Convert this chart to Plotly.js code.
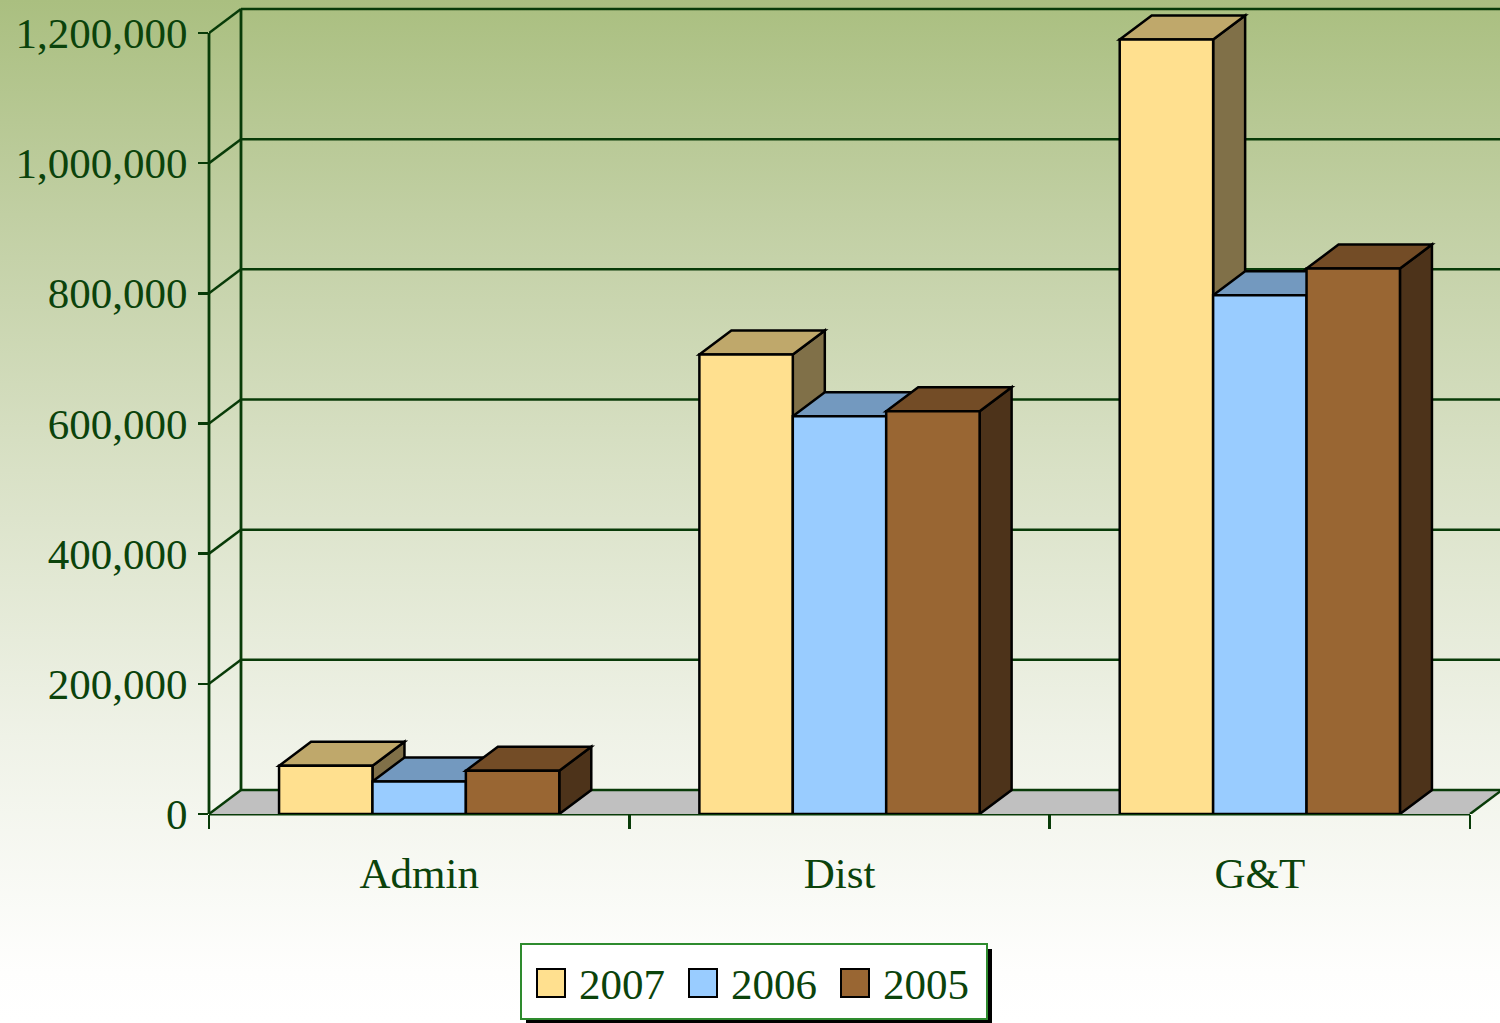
<!DOCTYPE html>
<html><head><meta charset="utf-8">
<script src="https://cdn.plot.ly/plotly-3.0.1.min.js"></script>
<style>
html,body{margin:0;padding:0;}
#chart{width:1500px;height:1023px;background:linear-gradient(to bottom,#AABF80 0%,#C1CFA3 21%,#D9E1C6 46%,#EFF2E7 72%,#FEFEFD 95%,#FFFFFF 100%);}
</style></head><body><div id="chart"></div>
<script>
// ---- data ----
const categories = ['Admin', 'Dist', 'G&T'];
const seriesNames = ['2007', '2006', '2005'];
const values2007 = [74000, 706000, 1190000];
const values2006 = [50000, 611000, 797000];
const values2005 = [66500, 619000, 838000];
const yTickValues = [0, 200000, 400000, 600000, 800000, 1000000, 1200000];

// ---- styles ----
const frontColors = ['#FFE08F', '#99CCFF', '#996633'];
const topColors = ['#BFA86B', '#7399BF', '#734C26'];
const sideColors = ['#807048', '#4D6680', '#4D331A'];
const lineGreen = '#083B08';
const textGreen = '#0B430B';
const fontFam = '"Liberation Serif", "Times New Roman", serif';

const seriesValues = [values2007, values2006, values2005];

// ---- geometry ----
const W = 1500, H = 1023;
const M = {l: 209, r: 0, t: 4, b: 209};
const plotW = W - M.l - M.r, plotH = H - M.t - M.b;
const frontAxisPx = 1261;              // px covered by the categories on the front plane
const pxPerCat = frontAxisPx / categories.length;
const yTop = yTickValues[yTickValues.length - 1];
const pxPerVal = 781 / yTop;
const xMin = -0.5, xMax = -0.5 + plotW / pxPerCat;
const yMax = plotH / pxPerVal;
const dx = 32 / pxPerCat, dy = 24 / pxPerVal;   // depth offsets in data units
const bargap = 1 / 3;
const groupW = 1 - bargap, barW = groupW / seriesNames.length;
const xFrontEnd = xMin + categories.length;

function px2paperX(px) { return (px - M.l) / plotW; }
function py2paperY(py) { return (H - M.b - py) / plotH; }

const shapes = [];
// floor
shapes.push({type: 'path', xref: 'x', yref: 'y', layer: 'below',
  path: `M${xMin},0 L${xFrontEnd},0 L${xFrontEnd + dx},${dy} L${xMin + dx},${dy} Z`,
  fillcolor: '#C0C0C0', line: {width: 0}});
// back wall left edge
shapes.push({type: 'line', xref: 'x', yref: 'y', layer: 'below',
  x0: xMin + dx, x1: xMin + dx, y0: dy, y1: yTop + dy, line: {color: lineGreen, width: 2.8}});
// back wall gridlines and diagonals
yTickValues.forEach(t => {
  shapes.push({type: 'line', xref: 'x', yref: 'y', layer: 'below',
    x0: xMin + dx, x1: xMax, y0: t + dy, y1: t + dy, line: {color: lineGreen, width: 2.5}});
  shapes.push({type: 'line', xref: 'x', yref: 'y', layer: 'below',
    x0: xMin, x1: xMin + dx, y0: t, y1: t + dy, line: {color: lineGreen, width: 2.5}});
});
// floor right diagonal
shapes.push({type: 'line', xref: 'x', yref: 'y', layer: 'below',
  x0: xFrontEnd, x1: xFrontEnd + dx, y0: 0, y1: dy, line: {color: lineGreen, width: 2.5}});
// front value axis
shapes.push({type: 'line', xref: 'paper', yref: 'y', layer: 'below',
  x0: 0, x1: 0, y0: 0, y1: yTop, line: {color: lineGreen, width: 2.8}});
// front baseline
shapes.push({type: 'line', xref: 'x', yref: 'paper', layer: 'below',
  x0: xMin, x1: xFrontEnd, y0: 0, y1: 0, line: {color: lineGreen, width: 3.2}});

// 3D faces for bars (sides and tops), computed from the values
categories.forEach((c, i) => {
  seriesValues.forEach((vals, j) => {
    const v = vals[i];
    const x0 = i - groupW / 2 + j * barW;
    const x1 = x0 + barW;
    shapes.push({type: 'path', xref: 'x', yref: 'y', layer: 'below',
      path: `M${x1},0 L${x1},${v} L${x1 + dx},${v + dy} L${x1 + dx},${dy} Z`,
      fillcolor: sideColors[j], line: {color: '#000000', width: 2.5}});
    shapes.push({type: 'path', xref: 'x', yref: 'y', layer: 'below',
      path: `M${x0},${v} L${x1},${v} L${x1 + dx},${v + dy} L${x0 + dx},${v + dy} Z`,
      fillcolor: topColors[j], line: {color: '#000000', width: 2.5}});
  });
});

// custom legend
const legL = 521, legR = 987, legT = 944, legB = 1019;
shapes.push({type: 'rect', xref: 'paper', yref: 'paper', layer: 'above',
  x0: px2paperX(legL + 5), x1: px2paperX(legR + 5), y0: py2paperY(legB + 5), y1: py2paperY(legT + 5),
  fillcolor: '#000000', line: {width: 0}});
shapes.push({type: 'rect', xref: 'paper', yref: 'paper', layer: 'above',
  x0: px2paperX(legL), x1: px2paperX(legR), y0: py2paperY(legB), y1: py2paperY(legT),
  fillcolor: '#FFFFFF', line: {color: '#2E8B2E', width: 2}});
const annotations = [];
seriesNames.forEach((n, j) => {
  const sx = 537 + j * 152;
  shapes.push({type: 'rect', xref: 'paper', yref: 'paper', layer: 'above',
    x0: px2paperX(sx), x1: px2paperX(sx + 28), y0: py2paperY(997), y1: py2paperY(969),
    fillcolor: frontColors[j], line: {color: '#000000', width: 2}});
  annotations.push({xref: 'paper', yref: 'paper', x: px2paperX(sx + 40), y: py2paperY(985),
    xanchor: 'left', yanchor: 'middle', showarrow: false, text: n,
    font: {family: fontFam, size: 43, color: textGreen}});
});

const traces = seriesNames.map((n, j) => ({
  type: 'bar', name: n, x: categories, y: seriesValues[j],
  marker: {color: frontColors[j], line: {color: '#000000', width: 2.5}},
  hoverinfo: 'skip', showlegend: false
}));

const layout = {
  width: W, height: H,
  margin: M,
  paper_bgcolor: 'rgba(0,0,0,0)', plot_bgcolor: 'rgba(0,0,0,0)',
  barmode: 'group', bargap: bargap, bargroupgap: 0,
  showlegend: false,
  xaxis: {type: 'category', range: [xMin, xMax], tickson: 'boundaries',
    ticks: 'outside', ticklen: 14, tickwidth: 2.5, tickcolor: lineGreen,
    showline: false, showgrid: false, zeroline: false, fixedrange: true,
    ticklabelstandoff: 30,
    tickfont: {family: fontFam, size: 43, color: textGreen}},
  yaxis: {range: [0, yMax], tickvals: yTickValues, tickformat: ',d',
    ticks: 'outside', ticklen: 10, tickwidth: 2.5, tickcolor: lineGreen,
    showline: false, showgrid: false, zeroline: false, fixedrange: true,
    ticklabelstandoff: 2,
    tickfont: {family: fontFam, size: 43, color: textGreen}},
  shapes: shapes,
  annotations: annotations
};

Plotly.newPlot('chart', traces, layout, {displayModeBar: false, staticPlot: true});
</script></body></html>
